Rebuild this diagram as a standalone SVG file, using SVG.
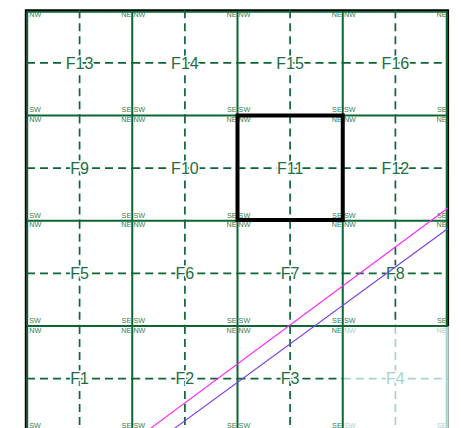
<svg xmlns="http://www.w3.org/2000/svg" width="461" height="428" viewBox="0 0 461 428">
<style>
.g{stroke:#0b6634;stroke-width:2;fill:none}
.d{stroke:#0b6634;stroke-width:1.7;stroke-dasharray:8 5;fill:none}
.lab{font-family:"Liberation Sans",Arial,sans-serif;font-size:16px;fill:#1d6e42;text-anchor:middle;stroke:#fff;stroke-width:3;paint-order:stroke}
.c{font-family:"Liberation Sans",Arial,sans-serif;font-size:7.2px;fill:#2f7d52}
.e{text-anchor:end}
.f .d{stroke:#a6d3cb}
.f .lab{fill:#a6d3cb}
.f .c{fill:#a6d3cb}
</style>
<rect width="461" height="428" fill="#fff"/>
<g id="F4" class="f">
<path class="d" d="M342.75 378.6H448M395.4 326V431"/>
<text class="lab" x="395.4" y="384.4">F4</text>
<text class="c" x="343.9" y="332.5">NW</text><text class="c e" x="446.5" y="332.5">NE</text>
<text class="c" x="343.9" y="427.8">SW</text><text class="c e" x="446.5" y="427.8">SE</text>
</g>
<g id="grid">
<path d="M446.7 326V430" stroke="#a6d3cb" stroke-width="2"/>
<path class="g" d="M27.2 10V430M132.25 10V430M237.5 10V430M342.75 10V430M446.7 10V326M26 11.85H448M26 115.5H448M26 220.75H448M26 326H448"/>
<path d="M25.6 430V10.1H448.3V326" stroke="#000" stroke-width="1.6" fill="none"/>
<path d="M448.4 326V430" stroke="#8fa6a2" stroke-width="1"/>
</g>
<g id="F13"><path class="d" d="M27 62.9H132.25M79.6 10.25V115.5"/><text class="lab" x="79.6" y="68.7">F13</text>
<text class="c" x="29.3" y="17.3">NW</text><text class="c e" x="131.2" y="17.3">NE</text><text class="c" x="29.3" y="112.4">SW</text><text class="c e" x="131.2" y="112.4">SE</text></g>
<g id="F14"><path class="d" d="M132.25 62.9H237.5M184.9 10.25V115.5"/><text class="lab" x="184.9" y="68.7">F14</text>
<text class="c" x="133.4" y="17.3">NW</text><text class="c e" x="236.5" y="17.3">NE</text><text class="c" x="133.4" y="112.4">SW</text><text class="c e" x="236.5" y="112.4">SE</text></g>
<g id="F15"><path class="d" d="M237.5 62.9H342.75M290.1 10.25V115.5"/><text class="lab" x="290.1" y="68.7">F15</text>
<text class="c" x="238.6" y="17.3">NW</text><text class="c e" x="341.7" y="17.3">NE</text><text class="c" x="238.6" y="112.4">SW</text><text class="c e" x="341.7" y="112.4">SE</text></g>
<g id="F16"><path class="d" d="M342.75 62.9H448M395.4 10.25V115.5"/><text class="lab" x="395.4" y="68.7">F16</text>
<text class="c" x="343.9" y="17.3">NW</text><text class="c e" x="446.5" y="17.3">NE</text><text class="c" x="343.9" y="112.4">SW</text><text class="c e" x="446.5" y="112.4">SE</text></g>
<g id="F9"><path class="d" d="M27 168.1H132.25M79.6 115.5V220.75"/><text class="lab" x="79.6" y="173.9">F9</text>
<text class="c" x="29.3" y="122">NW</text><text class="c e" x="131.2" y="122">NE</text><text class="c" x="29.3" y="217.7">SW</text><text class="c e" x="131.2" y="217.7">SE</text></g>
<g id="F10"><path class="d" d="M132.25 168.1H237.5M184.9 115.5V220.75"/><text class="lab" x="184.9" y="173.9">F10</text>
<text class="c" x="133.4" y="122">NW</text><text class="c e" x="236.5" y="122">NE</text><text class="c" x="133.4" y="217.7">SW</text><text class="c e" x="236.5" y="217.7">SE</text></g>
<g id="F11"><path class="d" d="M237.5 168.1H342.75M290.1 115.5V220.75"/><text class="lab" x="290.1" y="173.9">F11</text>
<text class="c" x="238.6" y="122">NW</text><text class="c e" x="341.7" y="122">NE</text><text class="c" x="238.6" y="217.7">SW</text><text class="c e" x="341.7" y="217.7">SE</text></g>
<g id="F12"><path class="d" d="M342.75 168.1H448M395.4 115.5V220.75"/><text class="lab" x="395.4" y="173.9">F12</text>
<text class="c" x="343.9" y="122">NW</text><text class="c e" x="446.5" y="122">NE</text><text class="c" x="343.9" y="217.7">SW</text><text class="c e" x="446.5" y="217.7">SE</text></g>
<g id="F5"><path class="d" d="M27 273.4H132.25M79.6 220.75V326"/><text class="lab" x="79.6" y="279.2">F5</text>
<text class="c" x="29.3" y="227.2">NW</text><text class="c e" x="131.2" y="227.2">NE</text><text class="c" x="29.3" y="323">SW</text><text class="c e" x="131.2" y="323">SE</text></g>
<g id="F6"><path class="d" d="M132.25 273.4H237.5M184.9 220.75V326"/><text class="lab" x="184.9" y="279.2">F6</text>
<text class="c" x="133.4" y="227.2">NW</text><text class="c e" x="236.5" y="227.2">NE</text><text class="c" x="133.4" y="323">SW</text><text class="c e" x="236.5" y="323">SE</text></g>
<g id="F7"><path class="d" d="M237.5 273.4H342.75M290.1 220.75V326"/><text class="lab" x="290.1" y="279.2">F7</text>
<text class="c" x="238.6" y="227.2">NW</text><text class="c e" x="341.7" y="227.2">NE</text><text class="c" x="238.6" y="323">SW</text><text class="c e" x="341.7" y="323">SE</text></g>
<g id="F8"><path class="d" d="M342.75 273.4H448M395.4 220.75V326"/><text class="lab" x="395.4" y="279.2">F8</text>
<text class="c" x="343.9" y="227.2">NW</text><text class="c e" x="446.5" y="227.2">NE</text><text class="c" x="343.9" y="323">SW</text><text class="c e" x="446.5" y="323">SE</text></g>
<g id="F1"><path class="d" d="M27 378.6H132.25M79.6 326V431"/><text class="lab" x="79.6" y="384.4">F1</text>
<text class="c" x="29.3" y="332.5">NW</text><text class="c e" x="131.2" y="332.5">NE</text><text class="c" x="29.3" y="427.8">SW</text><text class="c e" x="131.2" y="427.8">SE</text></g>
<g id="F2"><path class="d" d="M132.25 378.6H237.5M184.9 326V431"/><text class="lab" x="184.9" y="384.4">F2</text>
<text class="c" x="133.4" y="332.5">NW</text><text class="c e" x="236.5" y="332.5">NE</text><text class="c" x="133.4" y="427.8">SW</text><text class="c e" x="236.5" y="427.8">SE</text></g>
<g id="F3"><path class="d" d="M237.5 378.6H342.75M290.1 326V431"/><text class="lab" x="290.1" y="384.4">F3</text>
<text class="c" x="238.6" y="332.5">NW</text><text class="c e" x="341.7" y="332.5">NE</text><text class="c" x="238.6" y="427.8">SW</text><text class="c e" x="341.7" y="427.8">SE</text></g>
<g id="connectors">
<line x1="134.8" y1="440" x2="448" y2="208" stroke="#ff22ff" stroke-width="1.1"/>
<line x1="158.6" y1="440" x2="448" y2="228.5" stroke="#7a3ee0" stroke-width="1.1"/>
</g>
<g id="selection">
<rect x="237.5" y="115.5" width="105.25" height="104.5" fill="none" stroke="#000" stroke-width="4"/>
</g>
</svg>
